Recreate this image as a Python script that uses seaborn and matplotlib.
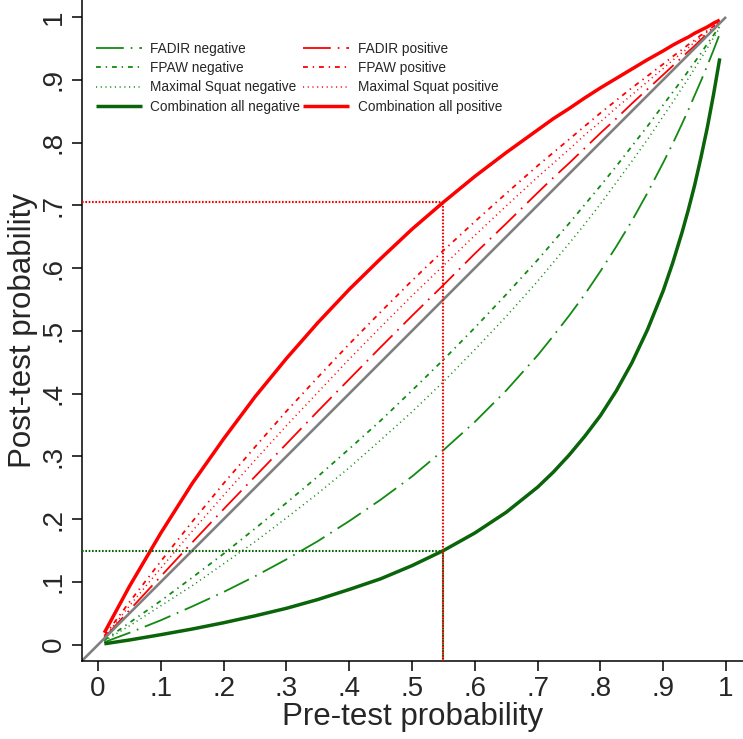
import matplotlib
matplotlib.use("Agg")
import matplotlib.pyplot as plt
import seaborn as sns

# pre-test probability grid
pre_test = [0.01, 0.05, 0.10, 0.15, 0.20, 0.25, 0.30, 0.35, 0.40, 0.45, 0.50, 0.55,
            0.60, 0.65, 0.70, 0.725, 0.75, 0.775, 0.80, 0.825, 0.85, 0.875, 0.90,
            0.915, 0.93, 0.94, 0.95, 0.96, 0.97, 0.98, 0.99]

# post-test probability per test result
fadir_neg = [0.004, 0.019, 0.039, 0.061, 0.084, 0.109, 0.136, 0.165, 0.197, 0.231, 0.268, 0.310,
             0.355, 0.405, 0.461, 0.492, 0.524, 0.558, 0.595, 0.634, 0.675, 0.720, 0.768,
             0.798, 0.830, 0.852, 0.875, 0.898, 0.922, 0.947, 0.973]
fpaw_neg = [0.007, 0.035, 0.070, 0.107, 0.145, 0.185, 0.226, 0.268, 0.312, 0.357, 0.405, 0.454,
            0.505, 0.558, 0.613, 0.642, 0.671, 0.701, 0.731, 0.762, 0.794, 0.826, 0.860,
            0.880, 0.900, 0.914, 0.928, 0.942, 0.957, 0.971, 0.985]
squat_neg = [0.006, 0.030, 0.062, 0.094, 0.129, 0.164, 0.202, 0.241, 0.282, 0.326, 0.371, 0.419,
             0.470, 0.523, 0.579, 0.609, 0.639, 0.670, 0.702, 0.736, 0.770, 0.805, 0.842,
             0.864, 0.887, 0.902, 0.918, 0.934, 0.950, 0.967, 0.983]
combo_neg = [0.0015, 0.0075, 0.016, 0.025, 0.035, 0.046, 0.058, 0.072, 0.088, 0.105, 0.126, 0.150,
             0.178, 0.211, 0.251, 0.275, 0.302, 0.332, 0.365, 0.404, 0.449, 0.502, 0.564,
             0.608, 0.657, 0.693, 0.732, 0.776, 0.823, 0.876, 0.934]
fadir_pos = [0.011, 0.055, 0.109, 0.163, 0.216, 0.268, 0.320, 0.372, 0.423, 0.474, 0.524, 0.573,
             0.623, 0.671, 0.720, 0.744, 0.767, 0.791, 0.815, 0.838, 0.862, 0.885, 0.908,
             0.922, 0.936, 0.945, 0.954, 0.964, 0.973, 0.982, 0.991]
fpaw_pos = [0.014, 0.068, 0.133, 0.196, 0.257, 0.315, 0.372, 0.426, 0.479, 0.530, 0.580, 0.628,
            0.674, 0.719, 0.763, 0.784, 0.805, 0.826, 0.847, 0.867, 0.887, 0.906, 0.925,
            0.937, 0.948, 0.956, 0.963, 0.971, 0.978, 0.985, 0.993]
squat_pos = [0.012, 0.062, 0.122, 0.181, 0.238, 0.294, 0.349, 0.402, 0.455, 0.506, 0.556, 0.604,
             0.652, 0.699, 0.745, 0.767, 0.789, 0.812, 0.833, 0.855, 0.876, 0.897, 0.918,
             0.931, 0.943, 0.951, 0.960, 0.968, 0.976, 0.984, 0.992]
combo_pos = [0.019, 0.093, 0.178, 0.257, 0.328, 0.395, 0.456, 0.513, 0.566, 0.615, 0.662, 0.705,
             0.746, 0.784, 0.820, 0.838, 0.854, 0.871, 0.887, 0.902, 0.917, 0.932, 0.946,
             0.955, 0.963, 0.968, 0.974, 0.979, 0.984, 0.990, 0.995]

labels = ["FADIR negative", "FPAW negative", "Maximal Squat negative", "Combination all negative",
          "FADIR positive", "FPAW positive", "Maximal Squat positive", "Combination all positive"]

# highlighted example: pre-test 0.55
ref_pre = 0.55
ref_post_pos = 0.705
ref_post_neg = 0.15

sns.set_theme(style="white")
plt.rcParams["font.family"] = ["Liberation Sans Narrow", "Liberation Sans", "DejaVu Sans"]
plt.rcParams["lines.scale_dashes"] = False

fig = plt.figure(figsize=(7.43, 7.39), dpi=100)
ax = fig.add_axes([0.110, 0.1055, 0.890, 0.8945])

green = "#128a12"
dkgreen = "#0a640a"
red = "#ff0000"
ld_dot = (0, (20, 5, 1.2, 5))
dash_dot = (0, (3.5, 3.5, 1, 3.5))
dots = (0, (0.8, 2.6))

series = [
    (fadir_neg, green, 1.3, ld_dot),
    (fpaw_neg, green, 1.3, dash_dot),
    (squat_neg, green, 1.1, dots),
    (combo_neg, dkgreen, 2.5, "-"),
    (fadir_pos, red, 1.3, ld_dot),
    (fpaw_pos, red, 1.3, dash_dot),
    (squat_pos, red, 1.1, dots),
    (combo_pos, red, 2.5, "-"),
]

lo, hi = -0.026, 1.027
handles = []
for (vals, col, lw, ls), lab in zip(series, labels):
    sns.lineplot(x=pre_test, y=vals, ax=ax, color=col, lw=lw, linestyle=ls, label=lab,
                 solid_capstyle="butt", solid_joinstyle="round")
    handles.append(ax.lines[-1])

# diagonal (no information)
sns.lineplot(x=[lo, 1], y=[lo, 1], ax=ax, color="#808080", lw=1.9, solid_capstyle="butt")

# reference dotted lines
ax.vlines(ref_pre, lo, ref_post_neg, color=dkgreen, lw=1.5, linestyle=(1.2, (1.2, 1.2)), zorder=5)
ax.hlines(ref_post_neg, lo, ref_pre, color=dkgreen, lw=1.5, linestyle=(0, (1.2, 1.2)), zorder=5)
ax.vlines(ref_pre, lo, ref_post_pos, color=red, lw=1.5, linestyle=(0, (1.2, 1.2)), zorder=5)
ax.hlines(ref_post_pos, lo, ref_pre, color=red, lw=1.5, linestyle=(0, (1.2, 1.2)), zorder=5)

ax.set_xlim(lo, hi)
ax.set_ylim(lo, hi)
ticks = [i / 10 for i in range(11)]
ticklabels = ["0"] + [f".{i}" for i in range(1, 10)] + ["1"]
ax.set_xticks(ticks)
ax.set_xticklabels(ticklabels)
ax.set_yticks(ticks)
ax.set_yticklabels(ticklabels, rotation=90, va="center")
ax.tick_params(axis="both", direction="out", length=7, width=1.1, color="black",
               labelsize=20, pad=4, bottom=True, left=True)

for side in ["top", "right"]:
    ax.spines[side].set_visible(False)
for side in ["left", "bottom"]:
    ax.spines[side].set_color("black")
    ax.spines[side].set_linewidth(1.1)

ax.set_xlabel("Pre-test probability", fontsize=22.5, labelpad=0)
ax.set_ylabel("Post-test probability", fontsize=22.5, labelpad=2)

ax.legend(handles=handles, labels=labels, ncol=2, frameon=False, fontsize=9.8,
          loc="upper left", bbox_to_anchor=(96 / 743, 1 - 42 / 739), bbox_transform=fig.transFigure,
          borderpad=0, borderaxespad=0, handlelength=3.4, handletextpad=0.6,
          columnspacing=0.2, labelspacing=0.38)

fig.savefig("out.png", dpi=100)
